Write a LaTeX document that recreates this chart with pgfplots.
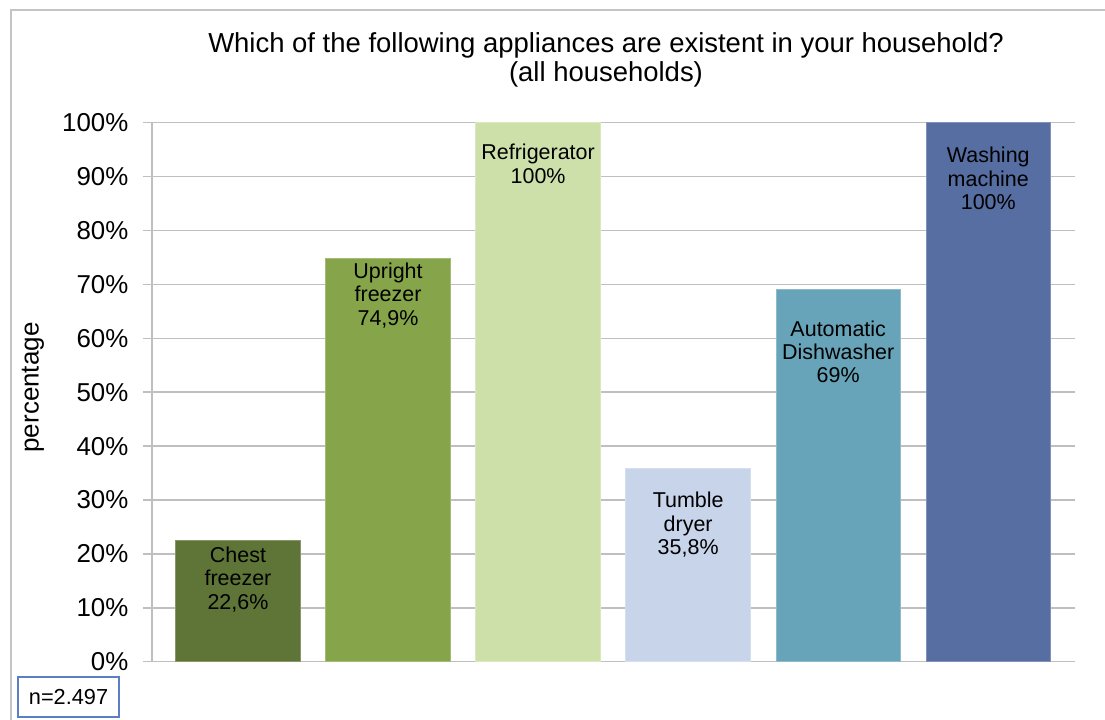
\documentclass[border=0pt]{standalone}
\usepackage{pgfplots}
\pgfplotsset{compat=1.18}
\usepackage{fontspec}
\setmainfont{Liberation Sans}

\definecolor{cChest}{HTML}{5F7537}
\definecolor{cUpright}{HTML}{86A44A}
\definecolor{cFridge}{HTML}{CDE0AA}
\definecolor{cDryer}{HTML}{C7D4EA}
\definecolor{cDish}{HTML}{67A4B9}
\definecolor{cWash}{HTML}{566EA1}
\definecolor{gridgray}{HTML}{BFBFBF}
\definecolor{framegray}{HTML}{C4C4C4}
\definecolor{nblue}{HTML}{5B7FC5}

\tikzset{lbl/.style={align=center, font=\fontsize{16.1}{17.6}\selectfont, text=black}}

\begin{document}
\begin{tikzpicture}
\path[use as bounding box, fill=white] (0,0) rectangle (828.75pt,540pt);
% outer chart frame
\draw[framegray, line width=0.9pt] (8.25pt,-1pt) -- (8.25pt,532.5pt) -- (830pt,532.5pt);

\begin{axis}[
  at={(114pt,43.7pt)}, anchor=south west, scale only axis,
  width=692.25pt, height=404.25pt,
  xmin=-0.573, xmax=5.578, ymin=0, ymax=100,
  axis line style={draw=none},
  xtick=\empty,
  extra x ticks={-0.573}, extra x tick labels={},
  extra x tick style={grid=major, major tick length=0pt},
  ytick={0,10,...,100},
  yticklabels={0\%,10\%,20\%,30\%,40\%,50\%,60\%,70\%,80\%,90\%,100\%},
  ytick pos=left, tick align=outside, major tick length=6.75pt,
  ytick style={draw=gridgray, line width=1.1pt},
  ymajorgrids, grid style={draw=gridgray, line width=1.1pt},
  yticklabel style={font=\fontsize{19.4}{23}\selectfont, anchor=east, xshift=-7.5pt},
  ybar, bar width=93.45pt,
  clip=false,
]
\addplot[fill=cChest,   draw=cChest!75!white,   line width=0.6pt, bar shift=0pt] coordinates {(0,22.6)};
\addplot[fill=cUpright, draw=cUpright!75!white, line width=0.6pt, bar shift=0pt] coordinates {(1,74.9)};
\addplot[fill=cFridge,  draw=cFridge!75!white,  line width=0.6pt, bar shift=0pt] coordinates {(2,100)};
\addplot[fill=cDryer,   draw=cDryer!75!white,   line width=0.6pt, bar shift=0pt] coordinates {(3,35.8)};
\addplot[fill=cDish,    draw=cDish!75!white,    line width=0.6pt, bar shift=0pt] coordinates {(4,69)};
\addplot[fill=cWash,    draw=cWash!75!white,    line width=0.6pt, bar shift=0pt] coordinates {(5,100)};

\node[lbl] at (axis cs:0,15.3) {Chest\\freezer\\22,6\%};
\node[lbl] at (axis cs:1,68.0) {Upright\\freezer\\74,9\%};
\node[lbl] at (axis cs:2,92.4) {Refrigerator\\100\%};
\node[lbl] at (axis cs:3,25.4) {Tumble\\dryer\\35,8\%};
\node[lbl] at (axis cs:4,57.5) {Automatic\\Dishwasher\\69\%};
\node[lbl] at (axis cs:5,89.6) {Washing\\machine\\100\%};
\end{axis}

% title
\node[align=center, font=\fontsize{20.6}{22.2}\selectfont] at (454.5pt,495pt)
  {Which of the following appliances are existent in your household?\\(all households)};
% y axis label
\node[rotate=90, font=\fontsize{19.5}{23}\selectfont] at (24.75pt,249.4pt) {percentage};
% sample size box
\draw[nblue, line width=1.5pt, fill=white] (13.5pt,2.25pt) rectangle (89.25pt,32.25pt);
\node[font=\fontsize{16.3}{19}\selectfont] at (51.4pt,17.25pt) {n=2.497};
\end{tikzpicture}
\end{document}
